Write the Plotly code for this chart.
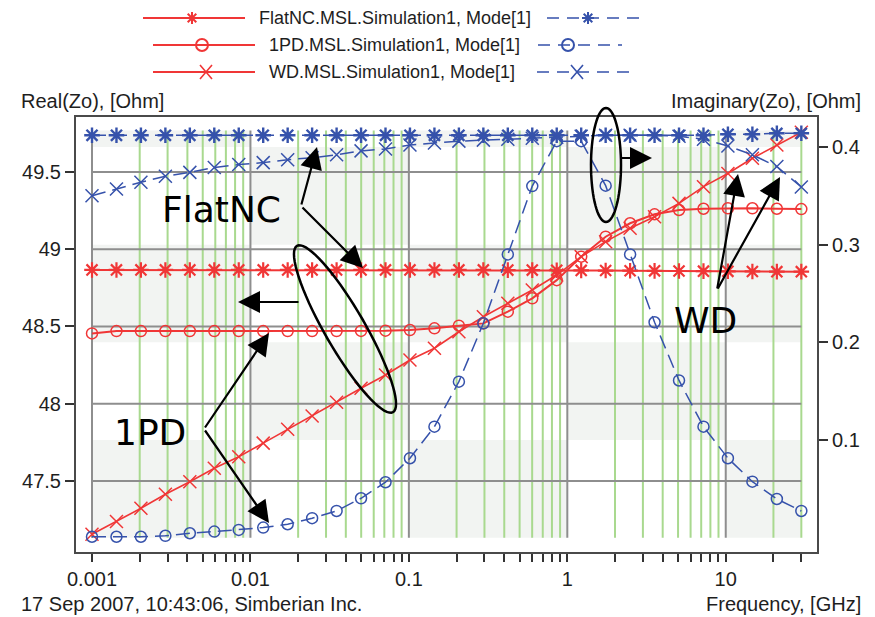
import math
import plotly.graph_objects as go

# ---------------- data ----------------
freq_ghz = [0.001, 0.001427, 0.002036, 0.002905, 0.004145, 0.005914, 0.008438, 0.01204,
            0.01718, 0.02451, 0.03498, 0.04991, 0.07121, 0.1016, 0.1450, 0.2069, 0.2952,
            0.4212, 0.6010, 0.8574, 1.2235, 1.746, 2.491, 3.554, 5.071, 7.236, 10.32,
            14.73, 21.02, 30.0]

re_flatnc = [48.866, 48.866, 48.866, 48.866, 48.866, 48.866, 48.866, 48.866, 48.866, 48.866,
             48.866, 48.866, 48.866, 48.866, 48.866, 48.866, 48.866, 48.865, 48.865, 48.864,
             48.863, 48.862, 48.861, 48.860, 48.859, 48.858, 48.857, 48.856, 48.855, 48.855]
re_1pd = [48.455, 48.470, 48.470, 48.470, 48.470, 48.470, 48.470, 48.470, 48.470, 48.470,
          48.470, 48.471, 48.473, 48.477, 48.488, 48.505, 48.520, 48.596, 48.682, 48.800,
          48.952, 49.081, 49.168, 49.226, 49.254, 49.262, 49.265, 49.265, 49.262, 49.260]
re_wd = [47.155, 47.237, 47.323, 47.414, 47.495, 47.582, 47.657, 47.745, 47.835, 47.920,
         48.010, 48.100, 48.186, 48.283, 48.359, 48.466, 48.563, 48.650, 48.736, 48.833,
         48.952, 49.049, 49.136, 49.210, 49.297, 49.405, 49.490, 49.589, 49.675, 49.757]

im_flatnc = [0.412, 0.412, 0.412, 0.412, 0.412, 0.412, 0.412, 0.412, 0.412, 0.412,
             0.412, 0.412, 0.412, 0.412, 0.412, 0.412, 0.412, 0.412, 0.412, 0.412,
             0.412, 0.412, 0.412, 0.412, 0.412, 0.412, 0.413, 0.413, 0.414, 0.414]
im_1pd = [0.001, 0.001, 0.001, 0.002, 0.0046, 0.0063, 0.008, 0.0104, 0.0138, 0.020,
          0.0274, 0.0404, 0.0568, 0.0814, 0.1137, 0.1598, 0.2195, 0.290, 0.360, 0.406,
          0.406, 0.3604, 0.290, 0.2206, 0.161, 0.1137, 0.0814, 0.0574, 0.0397, 0.0274]
im_wd = [0.350, 0.357, 0.364, 0.370, 0.374, 0.379, 0.382, 0.384, 0.387, 0.389,
         0.392, 0.396, 0.398, 0.402, 0.404, 0.406, 0.407, 0.408, 0.409, 0.410,
         0.411, 0.412, 0.412, 0.412, 0.411, 0.408, 0.401, 0.392, 0.380, 0.359]

series_names = ["FlatNC.MSL.Simulation1, Mode[1]",
                "1PD.MSL.Simulation1, Mode[1]",
                "WD.MSL.Simulation1, Mode[1]"]

left_ticks = [47.5, 48, 48.5, 49, 49.5]
right_ticks = [0.1, 0.2, 0.3, 0.4]
decades = [0.001, 0.01, 0.1, 1, 10]
x_ticks = [k * d for d in decades for k in range(1, 10) if k * d <= 30.0001]
x_ticktext = [("%g" % v) if v in decades else "" for v in x_ticks]
band_cols = [0.001, 0.01, 0.1, 1, 10, 30]
band_rows = [0, 0.1, 0.2, 0.3, 0.4, 0.417]

# ---------------- style ----------------
RED = "#f03636"
BLUE = "#3652ab"
FONT = "Liberation Sans, Arial, sans-serif"
TXT = "#1e1e1e"
OFF = 8  # page body margin
W, H = 875 - OFF, 617 - OFF
ML, MT = 76 - OFF, 117 - OFF
MR, MB = 58, 65
PW, PH = W - ML - MR, H - MT - MB


def px(X):
    return (X - OFF - ML) / PW


def py(Y):
    return (H - MB - (Y - OFF)) / PH


fig = go.Figure()

sym = ["asterisk-open", "circle-open", "x-thin-open"]
msize = [13, 11, 13]
for name, ys, s, ms in zip(series_names, [re_flatnc, re_1pd, re_wd], sym, msize):
    fig.add_trace(go.Scatter(x=freq_ghz, y=ys, name=name, mode="lines+markers", yaxis="y",
                             line=dict(color=RED, width=2 if s != "x-thin-open" else 1.6),
                             marker=dict(symbol=s, size=ms, color=RED,
                                         line=dict(color=RED, width=2.2 if s == "asterisk-open" else 1.5)),
                             showlegend=False))
for name, ys, s, ms in zip(series_names, [im_flatnc, im_1pd, im_wd], sym, msize):
    fig.add_trace(go.Scatter(x=freq_ghz, y=ys, name=name, mode="lines+markers", yaxis="y2",
                             line=dict(color=BLUE, width=1.5, dash="14px,7px"),
                             marker=dict(symbol=s, size=ms, color=BLUE,
                                         line=dict(color=BLUE, width=2.4 if s == "asterisk-open" else 1.5)),
                             showlegend=False))

shapes = []
# checkerboard shading
for ci in range(len(band_cols) - 1):
    for ri in range(len(band_rows) - 1):
        if (ci + ri) % 2 == 0:
            shapes.append(dict(type="rect", xref="x", yref="y2", layer="below",
                               x0=band_cols[ci], x1=band_cols[ci + 1],
                               y0=band_rows[ri], y1=band_rows[ri + 1],
                               fillcolor="#f2f4f2", line=dict(width=0)))
# green minor lines
for v in x_ticks:
    if v not in decades:
        shapes.append(dict(type="line", xref="x", yref="y2", layer="below",
                           x0=v, x1=v, y0=band_rows[0], y1=band_rows[-1],
                           line=dict(color="#a9d98f", width=2)))
# gray decade lines
for v in decades:
    shapes.append(dict(type="line", xref="x", yref="y2", layer="below",
                       x0=v, x1=v, y0=band_rows[0], y1=band_rows[-1],
                       line=dict(color="#8e8e8e", width=2)))
# gray horizontal lines
for v in left_ticks:
    shapes.append(dict(type="line", xref="x", yref="y", layer="below",
                       x0=band_cols[0], x1=band_cols[-1], y0=v, y1=v,
                       line=dict(color="#8e8e8e", width=2)))


def ellipse(cx, cy, a, b, ang, n=72):
    th = math.radians(ang)
    pts = []
    for i in range(n):
        t = 2 * math.pi * i / n
        X = cx + a * math.cos(t) * math.cos(th) - b * math.sin(t) * math.sin(th)
        Y = cy + a * math.cos(t) * math.sin(th) + b * math.sin(t) * math.cos(th)
        pts.append("%.5f,%.5f" % (px(X), py(Y)))
    return "M" + " L".join(pts) + " Z"


shapes.append(dict(type="path", xref="paper", yref="paper", path=ellipse(345, 329, 96, 20, 60),
                   line=dict(color="black", width=2.5)))
shapes.append(dict(type="path", xref="paper", yref="paper", path=ellipse(606, 165, 57, 15, 90),
                   line=dict(color="black", width=2.5)))


# legend glyphs
def marker_shape(kind, X, Y, color):
    base = dict(xref="paper", yref="paper", xsizemode="pixel", ysizemode="pixel",
                xanchor=px(X), yanchor=py(Y), line=dict(color=color, width=2))
    if kind == "circle-open":
        base.update(type="circle", x0=-6, x1=6, y0=-6, y1=6, fillcolor="rgba(0,0,0,0)")
    elif kind == "asterisk-open":
        base.update(type="path", path="M-6,0 L6,0 M0,-6 L0,6 M-4.3,-4.3 L4.3,4.3 M-4.3,4.3 L4.3,-4.3")
    else:
        base.update(type="path", path="M-6,-7 L6,7 M-6,7 L6,-7")
        base["line"] = dict(color=color, width=1.6)
    return base


leg_rows = [18, 45, 72]
red_line = [(143, 245, 192), (153, 255, 202), (153, 255, 206)]
text_x = [257, 267, 267]
blue_line = [(547, 642, 588), (538, 622, 568), (537, 630, 577)]
annotations = []
for i in range(3):
    Y = leg_rows[i]
    x0, x1, xm = red_line[i]
    shapes.append(dict(type="line", xref="paper", yref="paper", x0=px(x0), x1=px(x1), y0=py(Y), y1=py(Y),
                       line=dict(color=RED, width=2)))
    shapes.append(marker_shape(sym[i], xm, Y, RED))
    b0, b1, bm = blue_line[i]
    shapes.append(dict(type="line", xref="paper", yref="paper", x0=px(b0), x1=px(b1), y0=py(Y), y1=py(Y),
                       line=dict(color=BLUE, width=1.6, dash="12px,8px")))
    shapes.append(marker_shape(sym[i], bm, Y, BLUE))
    annotations.append(dict(text=series_names[i], x=px(text_x[i]), y=py(Y), xref="paper", yref="paper",
                            xanchor="left", yanchor="middle", showarrow=False,
                            font=dict(family=FONT, size=18, color=TXT)))


def label(text, X, Y, anchor, size=20):
    annotations.append(dict(text=text, x=px(X), y=py(Y), xref="paper", yref="paper",
                            xanchor=anchor, yanchor="middle", showarrow=False,
                            font=dict(family=FONT, size=size, color=TXT)))


label("Real(Zo), [Ohm]", 19, 101, "left")
label("Imaginary(Zo), [Ohm]", 863, 101, "right")
label("17 Sep 2007, 10:43:06, Simberian Inc.", 19, 604, "left")
label("Frequency, [GHz]", 863, 604, "right")

for t, X, Y in [("FlatNC", 221, 209), ("1PD", 150, 432), ("WD", 705, 320)]:
    annotations.append(dict(text=t, x=px(X), y=py(Y), xref="paper", yref="paper",
                            xanchor="center", yanchor="middle", showarrow=False,
                            font=dict(family="DejaVu Sans, Verdana, sans-serif", size=36, color="black")))


def arrow(tx, ty, vx, vy):
    annotations.append(dict(text="", x=px(tx), y=py(ty), xref="paper", yref="paper",
                            ax=vx - tx, ay=vy - ty, showarrow=True, arrowhead=2, arrowsize=2,
                            arrowwidth=2.2, arrowcolor="black", standoff=0, startstandoff=0))


arrow(317, 147, 301, 206)
arrow(363, 268, 301, 206)
arrow(269, 333, 204, 429)
arrow(269, 523, 204, 429)
arrow(738, 174, 717, 290)
arrow(780, 177, 717, 290)
arrow(238, 302, 300, 302)
arrow(652, 158, 620, 158)

tickfont = dict(family=FONT, size=20, color=TXT)
fig.update_layout(
    width=W, height=H, autosize=False,
    margin=dict(l=ML, r=MR, t=MT, b=MB, pad=0),
    paper_bgcolor="white", plot_bgcolor="white",
    showlegend=False,
    xaxis=dict(type="log", range=[-3.101, 1.576], tickmode="array", tickvals=x_ticks, ticktext=x_ticktext,
               ticks="outside", ticklen=8, tickwidth=1.5, tickcolor="#333", showgrid=False, zeroline=False,
               showline=True, linecolor="#4a4a4a", linewidth=2, mirror=True, tickfont=tickfont),
    yaxis=dict(range=[47.04, 49.856], tickmode="array", tickvals=left_ticks, ticks="outside", ticklen=9,
               tickwidth=1.5, tickcolor="#333", showgrid=False, zeroline=False, showline=True,
               linecolor="#4a4a4a", linewidth=2, tickfont=tickfont),
    yaxis2=dict(range=[-0.0146, 0.4307], overlaying="y", side="right", tickmode="array",
                tickvals=right_ticks, ticks="outside", ticklen=9, tickwidth=1.5, tickcolor="#333",
                showgrid=False, zeroline=False, showline=True, linecolor="#4a4a4a", linewidth=2,
                tickfont=tickfont),
    shapes=shapes,
    annotations=annotations,
)

fig.write_html("out.html")
